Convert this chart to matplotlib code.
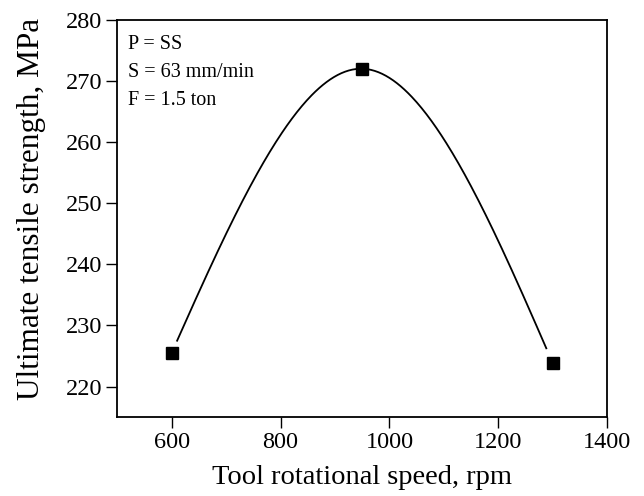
import numpy as np
import matplotlib
matplotlib.use('Agg')
import matplotlib.pyplot as plt

# tool rotational speed (rpm) vs UTS (MPa)
speed = [600, 950, 1300]
uts = [225.5, 272.0, 223.8]
notes = ['P = SS', 'S = 63 mm/min', 'F = 1.5 ton']


def natural_spline(x, y, xs):
    # plain natural cubic spline, like the spline connect in the original
    x = np.asarray(x, float)
    y = np.asarray(y, float)
    n = len(x)
    h = np.diff(x)
    A = np.zeros((n, n))
    b = np.zeros(n)
    A[0, 0] = 1
    A[-1, -1] = 1
    for i in range(1, n - 1):
        A[i, i - 1] = h[i - 1] / 6
        A[i, i] = (h[i - 1] + h[i]) / 3
        A[i, i + 1] = h[i] / 6
        b[i] = (y[i + 1] - y[i]) / h[i] - (y[i] - y[i - 1]) / h[i - 1]
    M = np.linalg.solve(A, b)
    k = np.clip(np.searchsorted(x, xs) - 1, 0, n - 2)
    hk = h[k]
    a = x[k + 1] - xs
    c = xs - x[k]
    return (M[k] * a**3 / (6 * hk) + M[k + 1] * c**3 / (6 * hk)
            + (y[k] / hk - M[k] * hk / 6) * a + (y[k + 1] / hk - M[k + 1] * hk / 6) * c)


plt.rc('font', family='Liberation Serif', size=17.5)
plt.rcParams['axes.linewidth'] = 1.3
plt.rcParams['xtick.major.width'] = 1
plt.rcParams['ytick.major.width'] = 1
plt.rcParams['xtick.major.size'] = 8
plt.rcParams['ytick.major.size'] = 8

fig = plt.figure(figsize=(6.44, 4.96), dpi=100)
ax = fig.add_axes([0.182, 0.159, 0.761, 0.801])

xs = np.linspace(610, 1288, 300)
ax.plot(xs, natural_spline(speed, uts, xs), color='black', linewidth=1.3)
ax.plot(speed, uts, linestyle='none', marker='s', markersize=8.5, color='black')

ax.set_xlim(500, 1400)
ax.set_ylim(215, 280)
ax.set_xticks([600, 800, 1000, 1200, 1400])
ax.set_yticks([220, 230, 240, 250, 260, 270, 280])
ax.tick_params(direction='out', top=False, right=False, pad=3)
ax.set_xlabel('Tool rotational speed, rpm', fontsize=20.5)
ax.set_ylabel('Ultimate tensile strength, MPa', fontsize=22.5)
ax.xaxis.set_label_coords(0.5, -0.12)
ax.yaxis.set_label_coords(-0.145, 0.525)

ax.text(0.022, 0.963, '\n'.join(notes), transform=ax.transAxes, va='top', ha='left',
        fontsize=14.5, linespacing=1.65)

fig.savefig('out.png', dpi=100)
